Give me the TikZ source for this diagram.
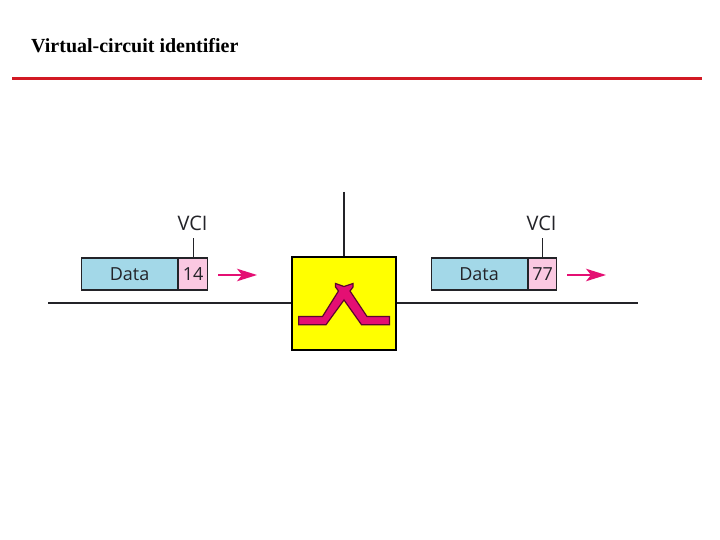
\documentclass[tikz,border=0pt]{standalone}
\usepackage{fontspec}
\setmainfont{Liberation Serif}
\newfontfamily\labelfont{Open Sans}
\usetikzlibrary{arrows.meta}
\definecolor{cellblue}{RGB}{163,216,232}
\definecolor{cellpink}{RGB}{250,200,225}
\definecolor{swyellow}{RGB}{255,255,0}
\definecolor{swpink}{RGB}{228,15,115}
\definecolor{rulered}{RGB}{210,25,35}
\definecolor{inkdark}{RGB}{35,35,40}
\tikzset{
  datacell/.style={draw=inkdark,line width=1.2pt,fill=cellblue,minimum height=32pt,inner sep=0pt,font=\labelfont\fontsize{18}{20}\selectfont,text=inkdark,anchor=west},
  vcicell/.style={draw=inkdark,line width=1.2pt,fill=cellpink,minimum height=32pt,inner sep=0pt,minimum width=28.5pt,font=\labelfont\fontsize{18}{20}\selectfont,text=inkdark,anchor=west},
  vcilabel/.style={inner sep=0pt,font=\labelfont\fontsize{20}{22}\selectfont,text=inkdark},
  wire/.style={draw=inkdark,line width=1.5pt},
  tick/.style={draw=inkdark,line width=0.8pt},
  flow/.style={draw=swpink,line width=1.4pt,-{Stealth[length=20pt,width=12.5pt,inset=5pt]}},
  switchbox/.style={draw=black,line width=1.6pt,fill=swyellow,minimum width=104pt,minimum height=93pt,inner sep=0pt},
  title/.style={inner sep=0pt,anchor=base west,font=\bfseries\fontsize{20}{22}\selectfont}
}
\begin{document}
\begin{tikzpicture}[x=1pt,y=-1pt]
\useasboundingbox[fill=white] (0,0) rectangle (720,540);
\node[title] (ttl) at (31,53) {Virtual-circuit identifier};
\coordinate (ruleL) at (12,78.3);
\coordinate (ruleR) at (702,78.3);
\draw[rulered,line width=3pt] (ruleL) -- (ruleR);

\coordinate (wireL) at (48,303);
\coordinate (wireR) at (638,303);
\coordinate (wireT) at (344,192);
\node[switchbox] (sw) at (344,303.5) {};
\draw[wire] (wireL) -- (wireL -| sw.west);
\draw[wire] (wireR -| sw.east) -- (wireR);
\draw[wire] (wireT) -- (sw.north);

\draw[draw=black!60!swpink,line width=1.2pt,fill=swpink,line join=miter]
 (298.8,316.5) -- (322.5,316.5) -- (338.5,291) -- (335.5,287) -- (335.5,283.5)
 -- (344,286.5) -- (353,283.5) -- (353,287) -- (350,291) -- (367,316.5)
 -- (389.5,316.5) -- (389.5,324.7) -- (361.5,324.7) -- (344,300) -- (326,324.7)
 -- (298.8,324.7) -- cycle;

\node[datacell,minimum width=96pt] (d1) at (81,274) {Data};
\node[vcicell] (v1) at (d1.east) {14};
\node[datacell,minimum width=96pt] (d2) at (430.5,274) {Data};
\node[vcicell] (v2) at (d2.east) {77};

\node[vcilabel] (l1) at (192.5,223.5) {VCI};
\node[vcilabel] (l2) at (541.5,223.5) {VCI};
\draw[tick] (v1.north) -- (v1.north |- 0,238);
\draw[tick] (v2.north) -- (v2.north |- 0,238);

\coordinate (a1s) at (218,275);
\coordinate (a1e) at (257,275);
\coordinate (a2s) at (567,275);
\coordinate (a2e) at (606,275);
\draw[flow] (a1s) -- (a1e);
\draw[flow] (a2s) -- (a2e);
\end{tikzpicture}
\end{document}
